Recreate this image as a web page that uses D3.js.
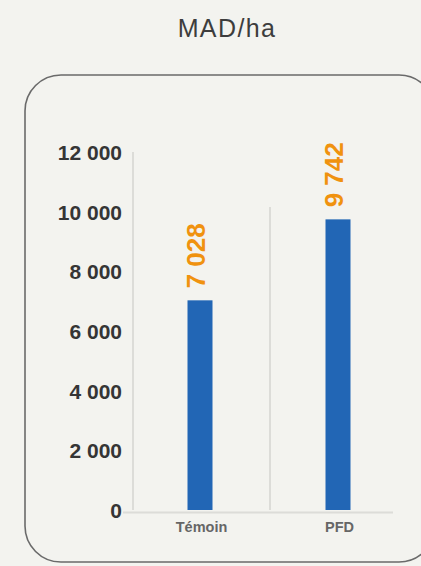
<!DOCTYPE html>
<html><head><meta charset="utf-8">
<script src="https://cdn.jsdelivr.net/npm/d3@7"></script>
<style>
html,body{margin:0;padding:0;background:#f3f3ef;}
svg{display:block;}
</style></head>
<body>
<svg id="c" width="421" height="566"></svg>
<script>
const categories = ["Témoin", "PFD"];
const values = [7028, 9742];
const valueLabels = ["7 028", "9 742"];
const yTicks = [0, 2000, 4000, 6000, 8000, 10000, 12000];
const yTickLabels = ["0", "2 000", "4 000", "6 000", "8 000", "10 000", "12 000"];
const title = "MAD/ha";

const svg = d3.select("#c");
const W = 421, H = 566;
const font = "'Liberation Sans', Arial, sans-serif";
svg.append("rect").attr("width", W).attr("height", H).attr("fill", "#f3f3ef");

// title
svg.append("text").attr("x", 227).attr("y", 37).attr("text-anchor", "middle")
  .attr("font-family", font).attr("font-size", 25).attr("letter-spacing", 1.4)
  .attr("fill", "#3d3d3d").text(title);

// rounded frame
svg.append("rect").attr("x", 25).attr("y", 75).attr("width", 410).attr("height", 487)
  .attr("rx", 36).attr("ry", 36).attr("fill", "none").attr("stroke", "#6a6a6a").attr("stroke-width", 1.6);

const y = d3.scaleLinear().domain([0, 12000]).range([510, 152]);
const x = d3.scalePoint().domain(categories).range([200, 338]);

// y axis line
svg.append("line").attr("x1", 133).attr("x2", 133).attr("y1", y(12000)).attr("y2", y(0))
  .attr("stroke", "#dcdcd8").attr("stroke-width", 2);
// divider
svg.append("line").attr("x1", 270).attr("x2", 270).attr("y1", 207).attr("y2", y(0))
  .attr("stroke", "#dcdcd8").attr("stroke-width", 2);
// baseline
svg.append("line").attr("x1", 123).attr("x2", 393).attr("y1", y(0) + 2.5).attr("y2", y(0) + 2.5)
  .attr("stroke", "#dcdcd8").attr("stroke-width", 2);

// y tick labels via axis
const yAxis = d3.axisLeft(y).tickValues(yTicks).tickSize(0).tickPadding(0)
  .tickFormat((d, i) => yTickLabels[i]);
const ga = svg.append("g").attr("transform", "translate(122,0)").call(yAxis);
ga.select(".domain").remove();
ga.selectAll("text").attr("font-family", font).attr("font-weight", "bold")
  .attr("font-size", 21).attr("fill", "#353535").attr("dy", "0.36em");

// bars
const bw = 25;
svg.selectAll("rect.bar").data(values).enter().append("rect").attr("class", "bar")
  .attr("x", (d, i) => x(categories[i]) - bw / 2).attr("width", bw)
  .attr("y", d => y(d)).attr("height", d => y(0) - y(d)).attr("fill", "#2266b5");

// value labels rotated
svg.selectAll("text.val").data(values).enter().append("text").attr("class", "val")
  .attr("transform", (d, i) => `translate(${x(categories[i]) + 5},${y(d) - 12}) rotate(-90)`)
  .attr("font-family", font).attr("font-weight", "bold").attr("font-size", 26)
  .attr("fill", "#f0920f").text((d, i) => valueLabels[i]);

// x labels
const xAxis = d3.axisBottom(x).tickSize(0).tickPadding(0);
const gx = svg.append("g").attr("transform", "translate(1,522)").call(xAxis);
gx.select(".domain").remove();
gx.selectAll("text").attr("font-family", font).attr("font-weight", "bold")
  .attr("font-size", 14.5).attr("fill", "#666").attr("dy", "0.71em");
</script>
</body></html>
